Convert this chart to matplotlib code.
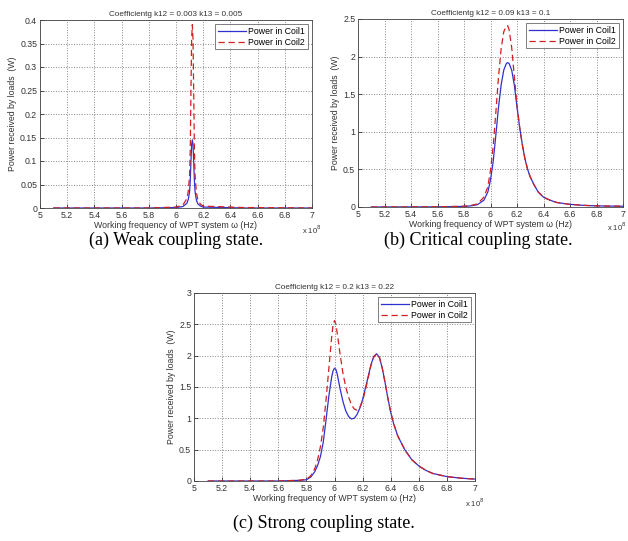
import matplotlib
matplotlib.use('Agg')
import matplotlib.pyplot as plt

# frequencies in units of 1e8 Hz
freq_a = [5.1, 5.8, 6.0, 6.05, 6.08, 6.09, 6.10, 6.105, 6.11, 6.115, 6.12, 6.125, 6.13, 6.135, 6.14, 6.15, 6.16, 6.18, 6.2, 6.5, 7.0]
coil1_a = [0.0, 0.0, 0.001, 0.003, 0.010, 0.018, 0.035, 0.06, 0.10, 0.135, 0.145, 0.135, 0.10, 0.06, 0.035, 0.017, 0.009, 0.004, 0.002, 0.0, 0.0]
coil2_a = [0.0, 0.0, 0.002, 0.006, 0.020, 0.035, 0.07, 0.13, 0.25, 0.36, 0.39, 0.36, 0.25, 0.13, 0.07, 0.033, 0.018, 0.008, 0.004, 0.001, 0.0]

freq_b = [5.1, 5.6, 5.8, 5.85, 5.9, 5.95, 5.98, 6.0, 6.02, 6.04, 6.06, 6.08, 6.10, 6.12, 6.13, 6.14, 6.16, 6.18, 6.20, 6.22,
          6.24, 6.26, 6.28, 6.30, 6.33, 6.36, 6.4, 6.45, 6.5, 6.6, 6.7, 6.8, 7.0]
coil1_b = [0.0, 0.002, 0.008, 0.015, 0.03, 0.09, 0.2, 0.36, 0.6, 0.95, 1.32, 1.62, 1.82, 1.91, 1.92, 1.91, 1.82, 1.62, 1.33, 1.06,
           0.83, 0.64, 0.50, 0.40, 0.29, 0.20, 0.13, 0.09, 0.06, 0.035, 0.022, 0.015, 0.01]
coil2_b = [0.0, 0.003, 0.01, 0.02, 0.04, 0.13, 0.27, 0.49, 0.8, 1.25, 1.72, 2.10, 2.33, 2.41, 2.41, 2.36, 2.12, 1.73, 1.35, 1.06,
           0.83, 0.64, 0.50, 0.40, 0.29, 0.20, 0.13, 0.09, 0.06, 0.035, 0.022, 0.015, 0.01]

freq_c = [5.1, 5.6, 5.75, 5.8, 5.83, 5.86, 5.88, 5.9, 5.92, 5.94, 5.96, 5.98, 5.99, 6.0, 6.01, 6.02, 6.04, 6.06, 6.08, 6.10,
          6.12, 6.14, 6.16, 6.18, 6.20, 6.22, 6.24, 6.26, 6.28, 6.30, 6.32, 6.34, 6.36, 6.38, 6.40, 6.42, 6.45, 6.5,
          6.55, 6.6, 6.65, 6.7, 6.8, 6.9, 7.0]
coil1_c = [0.0, 0.0, 0.01, 0.02, 0.06, 0.15, 0.25, 0.39, 0.62, 0.98, 1.36, 1.66, 1.76, 1.80, 1.78, 1.70, 1.47, 1.27, 1.12, 1.03,
           0.99, 1.00, 1.06, 1.16, 1.30, 1.48, 1.67, 1.86, 1.99, 2.03, 1.97, 1.80, 1.57, 1.32, 1.10, 0.92, 0.72, 0.50,
           0.34, 0.24, 0.17, 0.12, 0.07, 0.045, 0.03]
coil2_c = [0.0, 0.0, 0.012, 0.03, 0.08, 0.20, 0.34, 0.55, 0.85, 1.30, 1.80, 2.30, 2.50, 2.56, 2.50, 2.35, 2.02, 1.72, 1.50, 1.34,
           1.22, 1.15, 1.13, 1.17, 1.28, 1.45, 1.65, 1.85, 1.98, 2.03, 1.97, 1.80, 1.57, 1.32, 1.10, 0.92, 0.72, 0.50,
           0.34, 0.24, 0.17, 0.12, 0.07, 0.045, 0.03]

titles = ['Coefficientg k12 = 0.003 k13 = 0.005',
          'Coefficientg k12 = 0.09 k13 = 0.1',
          'Coefficientg k12 = 0.2 k13 = 0.22']
captions = ['(a) Weak coupling state.', '(b) Critical coupling state.', '(c) Strong coupling state.']
ymax = [0.4, 2.5, 3.0]
yticks = [[0, 0.05, 0.1, 0.15, 0.2, 0.25, 0.3, 0.35, 0.4],
          [0, 0.5, 1, 1.5, 2, 2.5],
          [0, 0.5, 1, 1.5, 2, 2.5, 3]]
xticks = [5, 5.2, 5.4, 5.6, 5.8, 6, 6.2, 6.4, 6.6, 6.8, 7]

plt.rcParams['font.family'] = ['Liberation Sans', 'DejaVu Sans']

fig = plt.figure(figsize=(6.28, 5.41), dpi=100)
H = 541.0
W = 628.0
rects = [
    [40 / W, 1 - 208 / H, 272 / W, 188 / H],
    [358 / W, 1 - 207 / H, 265 / W, 188 / H],
    [194 / W, 1 - 481 / H, 281 / W, 188 / H],
]
data = [(freq_a, coil1_a, coil2_a), (freq_b, coil1_b, coil2_b), (freq_c, coil1_c, coil2_c)]

for i, (f, c1, c2) in enumerate(data):
    ax = fig.add_axes(rects[i])
    ax.plot(f, c1, color='#3030d0', lw=0.9, label='Power in Coil1')
    ax.plot(f, c2, color='#d02020', lw=0.9, ls=(0, (5, 3)), label='Power in Coil2')
    ax.set_xlim(5, 7)
    ax.set_ylim(0, ymax[i])
    ax.set_xticks(xticks)
    ax.set_xticklabels(['%g' % t for t in xticks])
    ax.set_yticks(yticks[i])
    ax.set_yticklabels(['%g' % t for t in yticks[i]])
    ax.tick_params(direction='in', labelsize=6.3, length=3, width=0.6, colors='#333333', pad=2)
    ax.grid(True, ls=':', color='#888888', lw=0.7)
    for s in ax.spines.values():
        s.set_linewidth(0.6)
        s.set_color('#444444')
    ax.set_title(titles[i], fontsize=5.9, color='#333333', pad=3)
    ax.set_xlabel('Working frequency of WPT system ω (Hz)', fontsize=6.3, color='#333333', labelpad=1)
    ax.set_ylabel('Power received by loads  (W)', fontsize=6.3, color='#333333', labelpad=2)
    if i == 1:
        fig.text(627 / W, 1 - 227 / H, r'x 10$^8$', fontsize=5.5, color='#333333', ha='right', va='center')
    else:
        ax.text(1.0, -0.085, r'x 10$^8$', transform=ax.transAxes, fontsize=5.5, color='#333333',
                ha='center', va='top')
    leg = ax.legend(loc='upper right', fontsize=6.3, frameon=True, fancybox=False,
                    handlelength=3.2, handletextpad=0.3, borderpad=0.3, labelspacing=0.2, borderaxespad=0.5)
    leg.get_frame().set_edgecolor('#444444')
    leg.get_frame().set_linewidth(0.6)

fig.text(176 / W, 1 - 245 / H, captions[0], fontsize=13, family='Liberation Serif', ha='center', va='baseline')
fig.text(478 / W, 1 - 245 / H, captions[1], fontsize=13, family='Liberation Serif', ha='center', va='baseline')
fig.text(324 / W, 1 - 528 / H, captions[2], fontsize=13, family='Liberation Serif', ha='center', va='baseline')

fig.savefig('out.png', dpi=100, facecolor='white')
